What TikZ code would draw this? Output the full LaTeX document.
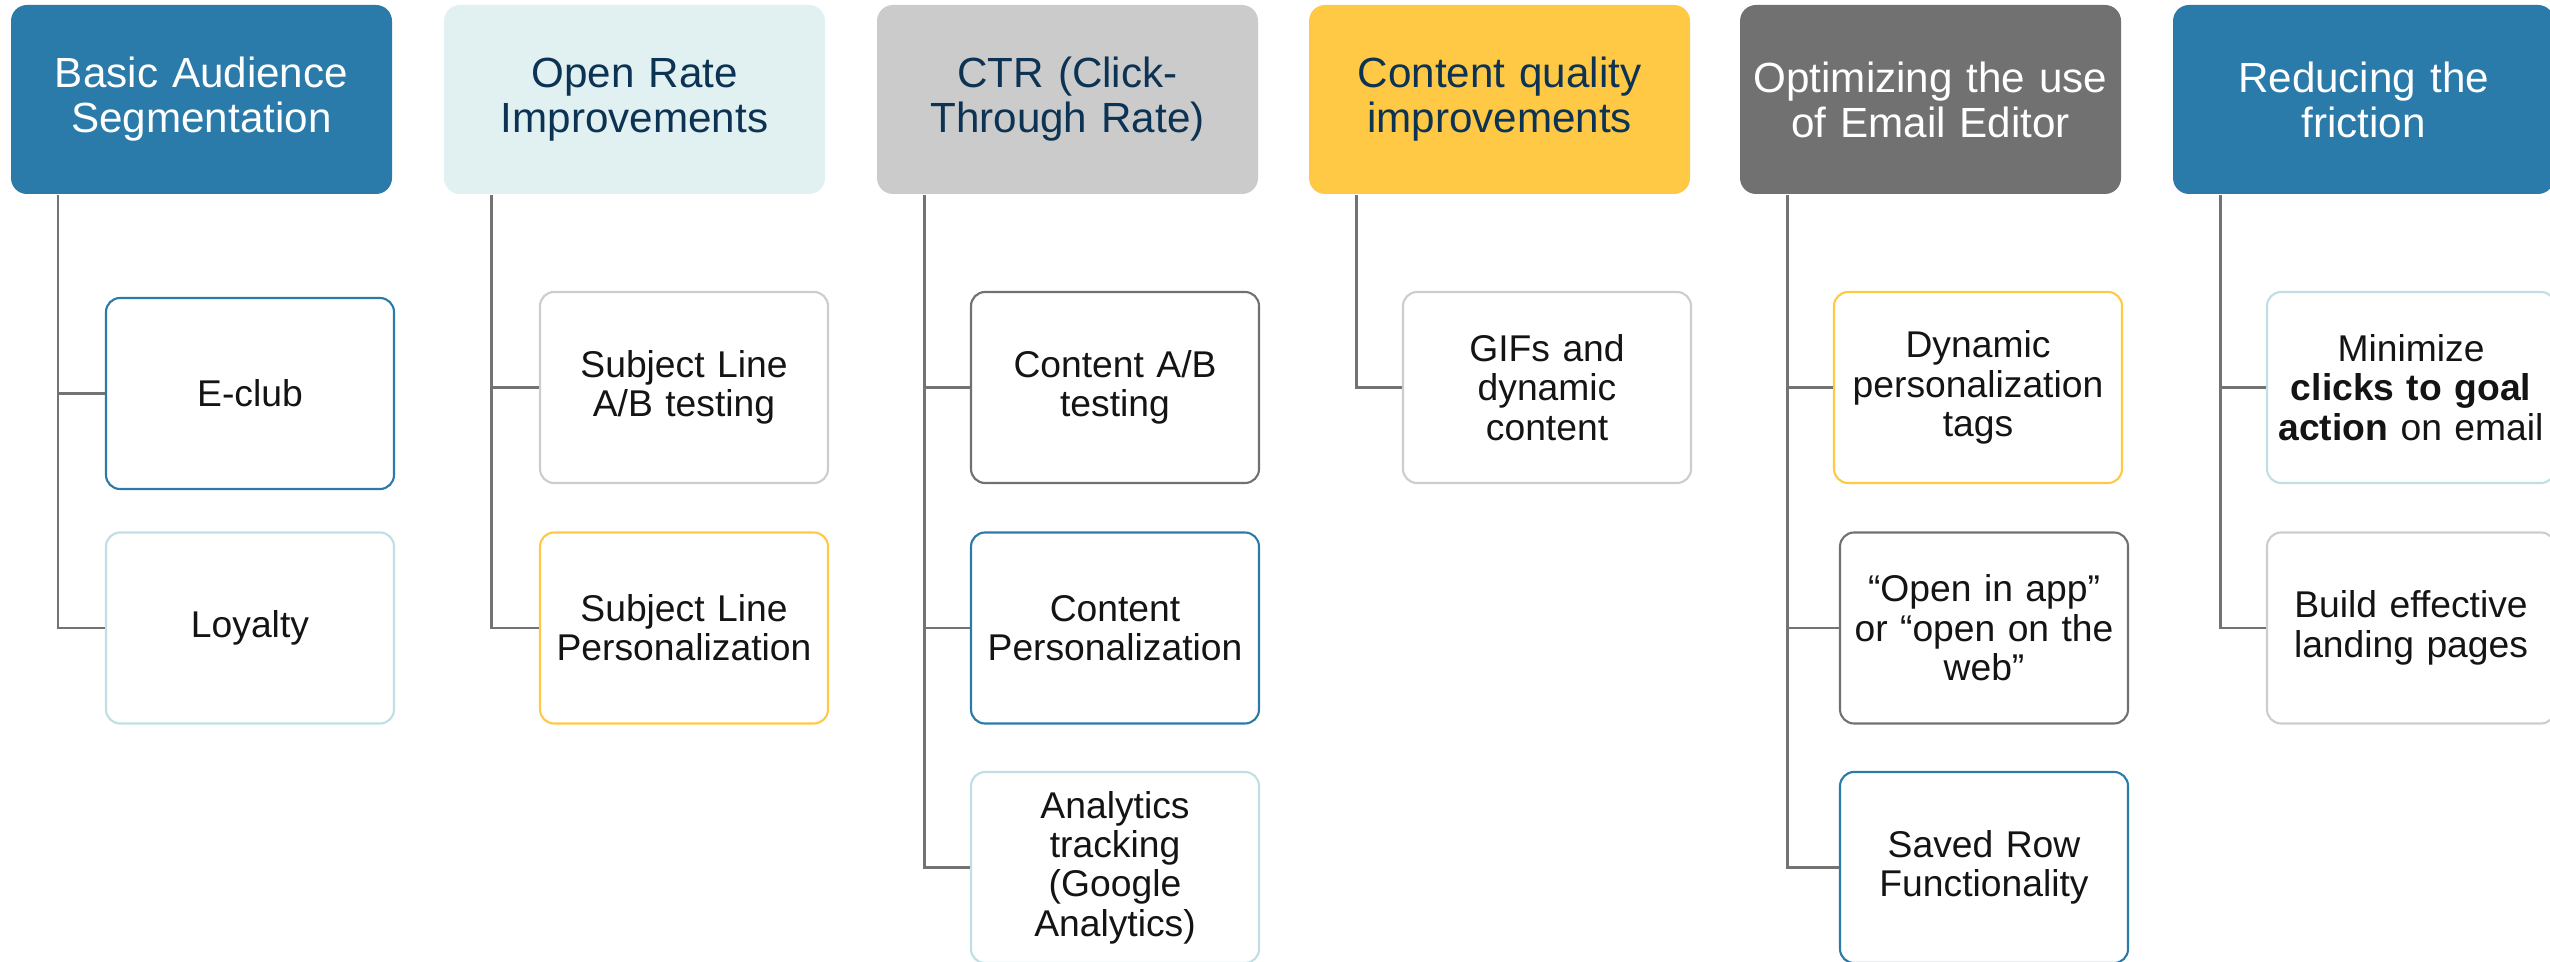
\documentclass[tikz,border=0pt]{standalone}
\usepackage{fontspec}
\setmainfont{Liberation Sans}
\usepackage{xcolor}
\usepackage{tikz}

\definecolor{segblue}{HTML}{2B7BAA}
\definecolor{paleteal}{HTML}{E1F0F1}
\definecolor{tealline}{HTML}{BFDFE4}
\definecolor{softgray}{HTML}{CBCBCB}
\definecolor{grayline}{HTML}{CDCDCD}
\definecolor{sunyellow}{HTML}{FFC845}
\definecolor{slate}{HTML}{717171}
\definecolor{navytext}{HTML}{0C3353}
\definecolor{linkgray}{HTML}{737373}

\begin{document}
\begin{tikzpicture}[
        topic/.style={rectangle, rounded corners=0.16cm, minimum width=3.81cm, minimum height=1.89cm, text width=3.7cm, align=center, inner sep=0pt, font=\fontsize{12}{12.8}\selectfont},
        task/.style={rectangle, draw, fill=white, rounded corners=0.14cm, line width=0.6pt, minimum width=2.88cm, minimum height=1.91cm, text width=2.8cm, align=center, inner sep=0pt, text=black!92, font=\fontsize{10.6}{11.2}\selectfont},
        link/.style={draw=linkgray, line width=0.85pt}
    ]
        \useasboundingbox (0,0) rectangle (25.5,-9.62);

        % --- Top: Topic Headers ---
        \node[topic, fill=segblue, text=white] (h1) at (2.015,-0.995) {Basic Audience\\Segmentation};
        \node[topic, fill=paleteal, text=navytext] (h2) at (6.345,-0.995) {Open Rate\\Improvements};
        \node[topic, fill=softgray, text=navytext] (h3) at (10.675,-0.995) {CTR (Click-\\Through Rate)};
        \node[topic, fill=sunyellow, text=navytext] (h4) at (14.995,-0.995) {Content quality\\improvements};
        \node[topic, fill=slate, text=white] (h5) at (19.305,-0.995) {Optimizing the use\\of Email Editor};
        \node[topic, fill=segblue, text=white] (h6) at (23.635,-0.995) {Reducing the\\friction};

        % Trunk start points
        \coordinate (t1) at ([xshift=-1.435cm]h1.south);
        \coordinate (t2) at ([xshift=-1.435cm]h2.south);
        \coordinate (t3) at ([xshift=-1.435cm]h3.south);
        \coordinate (t4) at ([xshift=-1.435cm]h4.south);
        \coordinate (t5) at ([xshift=-1.435cm]h5.south);
        \coordinate (t6) at ([xshift=-1.435cm]h6.south);

        % --- Below: Task Boxes ---
        \node[task, draw=segblue] (c1a) at (2.50,-3.935) {E-club};
        \node[task, draw=tealline] (c1b) at (2.50,-6.28) {Loyalty};

        \node[task, draw=grayline] (c2a) at (6.84,-3.875) {Subject Line\\A/B testing};
        \node[task, draw=sunyellow] (c2b) at (6.84,-6.28) {Subject Line\\Personalization};

        \node[task, draw=slate] (c3a) at (11.15,-3.875) {Content A/B\\testing};
        \node[task, draw=segblue] (c3b) at (11.15,-6.28) {Content\\Personalization};
        \node[task, draw=tealline] (c3c) at (11.15,-8.675) {Analytics\\tracking\\(Google\\Analytics)};

        \node[task, draw=grayline] (c4a) at (15.47,-3.875) {GIFs and\\dynamic\\content};

        \node[task, draw=sunyellow] (c5a) at (19.78,-3.875) {Dynamic\\personalization\\tags};
        \node[task, draw=slate] (c5b) at (19.84,-6.28) {“Open in app”\\or “open on the\\web”};
        \node[task, draw=segblue] (c5c) at (19.84,-8.675) {Saved Row\\Functionality};

        \node[task, draw=tealline] (c6a) at (24.11,-3.875) {Minimize\\\textbf{clicks to goal}\\\textbf{action} on email};
        \node[task, draw=grayline] (c6b) at (24.11,-6.28) {Build effective\\landing pages};

        % --- Connections ---
        \draw[link] (t1) |- (c1b.west);
        \draw[link] (t1 |- c1a.west) -- (c1a.west);

        \draw[link] (t2) |- (c2b.west);
        \draw[link] (t2 |- c2a.west) -- (c2a.west);

        \draw[link] (t3) |- (c3c.west);
        \draw[link] (t3 |- c3a.west) -- (c3a.west);
        \draw[link] (t3 |- c3b.west) -- (c3b.west);

        \draw[link] (t4) |- (c4a.west);

        \draw[link] (t5) |- (c5c.west);
        \draw[link] (t5 |- c5a.west) -- (c5a.west);
        \draw[link] (t5 |- c5b.west) -- (c5b.west);

        \draw[link] (t6) |- (c6b.west);
        \draw[link] (t6 |- c6a.west) -- (c6a.west);

    \end{tikzpicture}
\end{document}
